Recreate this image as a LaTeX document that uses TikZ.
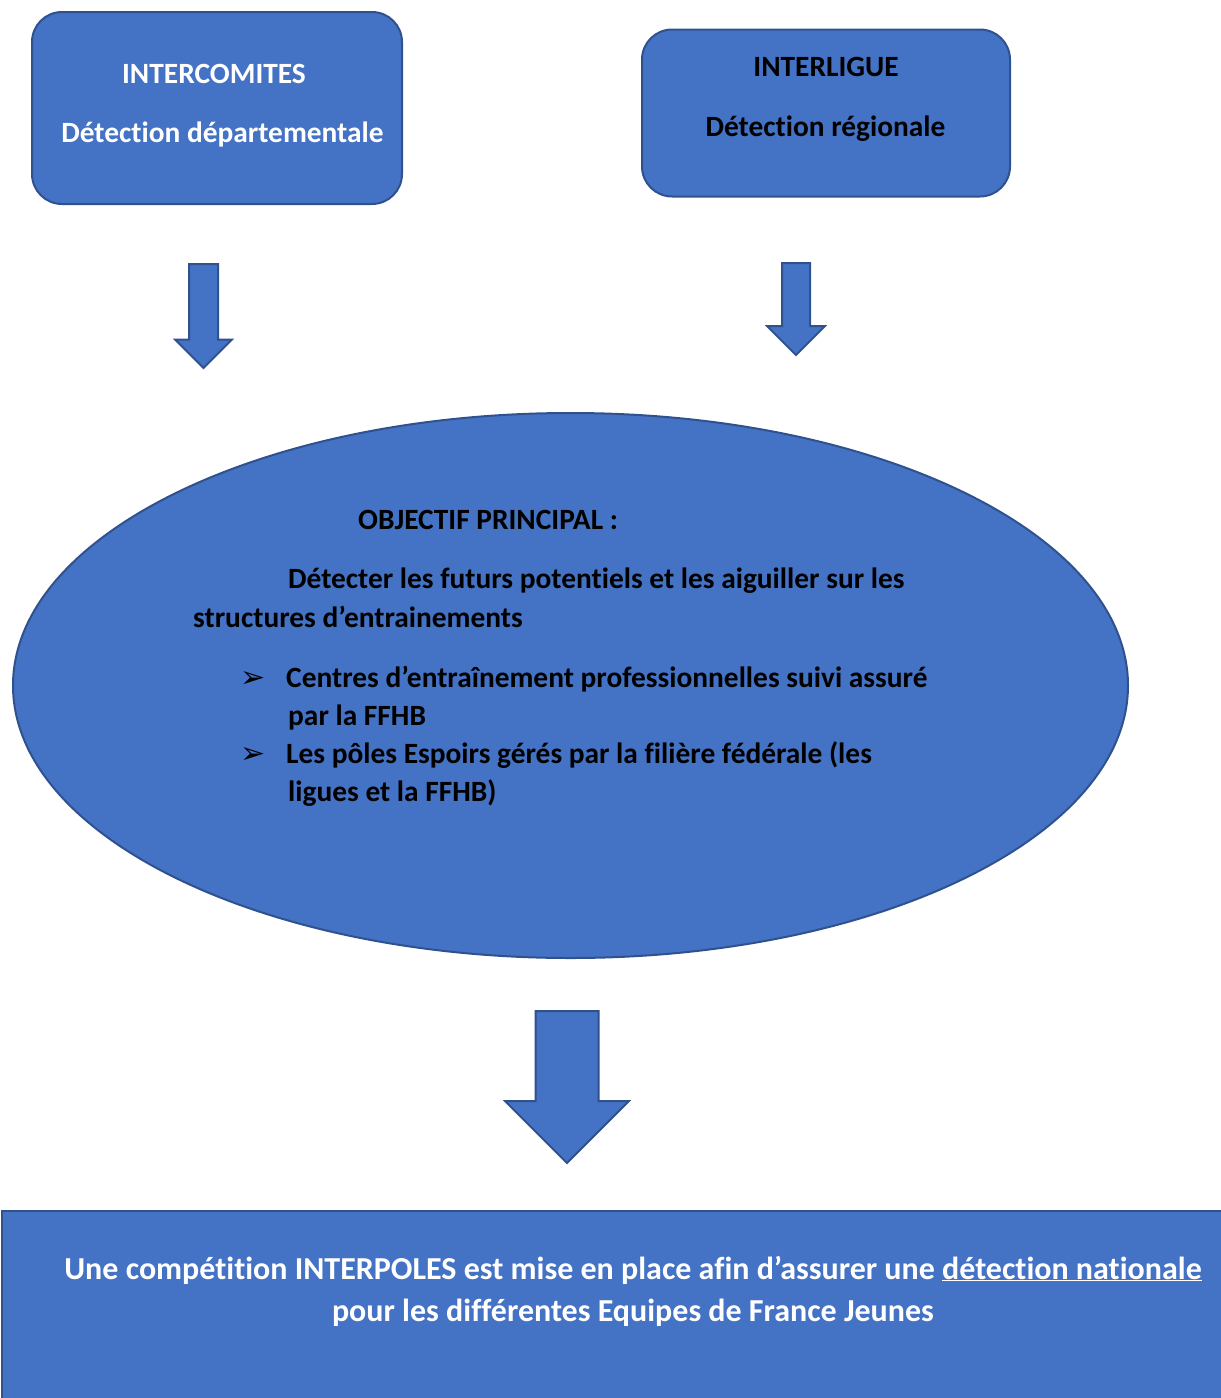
\documentclass[tikz,border=0pt]{standalone}
\usepackage{fontspec}
\setmainfont{Carlito}[Ligatures=NoCommon]
\newfontfamily\symbfont{DejaVu Sans}
\usepackage{tikz}
\usetikzlibrary{shapes.geometric,%
                shapes.arrows}
\definecolor{boxblue}{HTML}{4472C4}
\definecolor{edgeblue}{HTML}{2F528F}

\begin{document}
\begin{tikzpicture}
  [x=1pt,y=-1pt,every node/.style={inner sep=0pt,font=\fontsize{29.4}{38}\selectfont\bfseries},
   blk/.style={draw=edgeblue,fill=boxblue,line width=2pt},
   rbox/.style={blk,rectangle,rounded corners=30pt},
   downarrow/.style={blk,single arrow,shape border rotate=270,single arrow head indent=0pt,anchor=tail},
   bottomtext/.style={text=white,anchor=base,font=\fontsize{32}{42}\selectfont\bfseries}]
  \useasboundingbox (0,0) rectangle (1221,1398);
  \clip (0,0) rectangle (1221,1398);
  \node[rbox,minimum width=370pt,minimum height=192pt] (interco) at (217,108) {};
  \node[rbox,minimum width=368pt,minimum height=167pt] (interlig) at (826,113) {};
  \node[blk,ellipse,minimum width=1115pt,minimum height=545pt] (objectif) at (570.5,685.5) {};
  \node[blk,rectangle,anchor=north west,minimum width=1240pt,minimum height=220pt] (interpoles) at (1,1210) {};
  \node[downarrow,inner sep=13.5pt,minimum height=104pt,minimum width=55pt,single arrow head extend=14pt] (arrL) at (203.5,263) {};
  \node[downarrow,inner sep=13pt,minimum height=92pt,minimum width=56pt,single arrow head extend=15pt] (arrR) at (796,262) {};
  \node[downarrow,inner sep=30.5pt,minimum height=152pt,minimum width=122pt,single arrow head extend=30.5pt] (arrC) at (567,1010) {};
  \node[text=white,anchor=base] (intercoT) at (214,83) {INTERCOMITES};
  \node[text=white,anchor=base] (intercoD) at (222.5,142) {Détection départementale};
  \node[anchor=base] (interligT) at (826,76) {INTERLIGUE};
  \node[anchor=base] (interligD) at (825.5,136) {Détection régionale};
  \node[anchor=base west] (objT) at (358,529) {OBJECTIF PRINCIPAL :};
  \node[anchor=base west] (objA) at (288,588) {Détecter les futurs potentiels et les aiguiller sur les};
  \node[anchor=base west] (objB) at (193,627) {structures d’entrainements};
  \node[anchor=base west] (bulA) at (240,687) {\symbfont\fontsize{30}{30}\selectfont ➢};
  \node[anchor=base west] (objC) at (286,687) {Centres d’entraînement professionnelles suivi assuré};
  \node[anchor=base west] (objD) at (288,725) {par la FFHB};
  \node[anchor=base west] (bulB) at (240,763) {\symbfont\fontsize{30}{30}\selectfont ➢};
  \node[anchor=base west] (objE) at (286,763) {Les pôles Espoirs gérés par la filière fédérale (les};
  \node[anchor=base west] (objF) at (288,801) {ligues et la FFHB)};
  \node[bottomtext] (natA) at (633,1279) {Une compétition INTERPOLES est mise en place afin d’assurer une \underline{détection nationale}};
  \node[bottomtext] (natB) at (633,1321) {pour les différentes Equipes de France Jeunes};
\end{tikzpicture}
\end{document}
